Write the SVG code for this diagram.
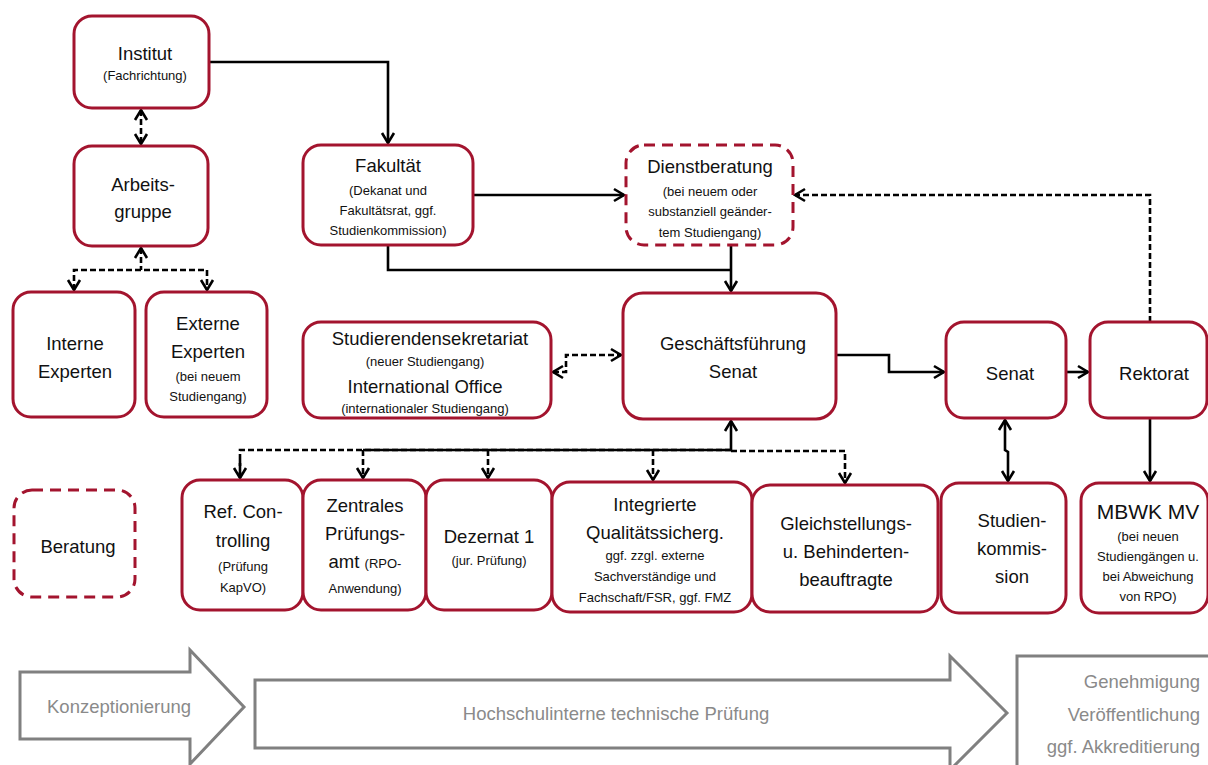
<svg xmlns="http://www.w3.org/2000/svg" width="1208" height="765" viewBox="0 0 1208 765">
<defs>
<style>
.n{fill:#fff;stroke:#a3142e;stroke-width:3}
.d{fill:#fff;stroke:#a3142e;stroke-width:3;stroke-dasharray:11 7}
.t{font-family:"Liberation Sans",Arial,sans-serif;font-size:18.5px;fill:#111;text-anchor:middle}
.s{font-family:"Liberation Sans",Arial,sans-serif;font-size:13px;fill:#111;text-anchor:middle}
.c{fill:none;stroke:#000;stroke-width:2.6}
.cd{fill:none;stroke:#000;stroke-width:2.6;stroke-dasharray:6 3}
.g{fill:#fff;stroke:#808080;stroke-width:3}
.gt{font-family:"Liberation Sans",Arial,sans-serif;font-size:18.5px;fill:#8a8a8a}
</style>
<marker id="a" markerUnits="userSpaceOnUse" markerWidth="16" markerHeight="16" viewBox="0 0 16 16" refX="13" refY="8" orient="auto-start-reverse">
<path d="M3,2 L13,8 L3,14" fill="none" stroke="#000" stroke-width="2.6"/>
</marker>
</defs>

<g id="connectors">
<path class="c" d="M209,62 H388 V143" marker-end="url(#a)"/>
<path class="cd" d="M141,110 V144" marker-start="url(#a)" marker-end="url(#a)"/>
<path class="cd" d="M141,248 V270"  marker-start="url(#a)"/>
<path class="cd" d="M74,290 V270 H207 V290" marker-start="url(#a)" marker-end="url(#a)"/>
<path class="c" d="M473,195 H624" marker-end="url(#a)"/>
<path class="c" d="M388,245 V270 H731"/>
<path class="c" d="M731,245 V291" marker-end="url(#a)"/>
<path class="cd" d="M1150,322 V195 H795" marker-end="url(#a)"/>
<path class="c" d="M836,355 H889 V372 H944" marker-end="url(#a)"/>
<path class="c" d="M1066,372 H1088" marker-end="url(#a)"/>
<path class="c" d="M1005,420 V450 L1008,452 V481" marker-start="url(#a)" marker-end="url(#a)"/>
<path class="c" d="M1150,418 V481" marker-end="url(#a)"/>
<path class="cd" d="M553,372 H566 V355 H621" marker-start="url(#a)" marker-end="url(#a)"/>
<path class="c" d="M731,421 V450" marker-start="url(#a)"/>
<path class="c" d="M363,450 H731"/>
<path class="cd" d="M240,478 V450 H731"/>
<path class="cd" d="M731,451 H845 V483" marker-end="url(#a)"/>
<path class="cd" d="M240,460 V478" marker-end="url(#a)"/>
<path class="cd" d="M363,450 V478" marker-end="url(#a)"/>
<path class="cd" d="M488,450 V478" marker-end="url(#a)"/>
<path class="cd" d="M653,450 V480" marker-end="url(#a)"/>
</g>

<g id="institut">
<rect class="n" x="74" y="16" width="135" height="92" rx="18"/>
<text class="t" x="145" y="60">Institut</text>
<text class="s" x="145" y="80">(Fachrichtung)</text>
</g>
<g id="arbeitsgruppe">
<rect class="n" x="74" y="146" width="134" height="100" rx="18"/>
<text class="t" x="143" y="191">Arbeits-</text>
<text class="t" x="143" y="218">gruppe</text>
</g>
<g id="interne">
<rect class="n" x="13" y="292" width="122" height="125" rx="18"/>
<text class="t" x="75" y="350">Interne</text>
<text class="t" x="75" y="378">Experten</text>
</g>
<g id="externe">
<rect class="n" x="146" y="292" width="121" height="125" rx="18"/>
<text class="t" x="208" y="330">Externe</text>
<text class="t" x="208" y="358">Experten</text>
<text class="s" x="208" y="381">(bei neuem</text>
<text class="s" x="208" y="401">Studiengang)</text>
</g>
<g id="fakultaet">
<rect class="n" x="303" y="145" width="170" height="100" rx="18"/>
<text class="t" x="388" y="172">Fakultät</text>
<text class="s" x="388" y="195">(Dekanat und</text>
<text class="s" x="388" y="215">Fakultätsrat, ggf.</text>
<text class="s" x="388" y="235">Studienkommission)</text>
</g>
<g id="dienstberatung">
<rect class="d" x="626" y="145" width="167" height="100" rx="18"/>
<text class="t" x="710" y="173">Dienstberatung</text>
<text class="s" x="710" y="196">(bei neuem oder</text>
<text class="s" x="710" y="216">substanziell geänder-</text>
<text class="s" x="710" y="237">tem Studiengang)</text>
</g>
<g id="studierendensekretariat">
<rect class="n" x="303" y="322" width="248" height="96" rx="18"/>
<text class="t" x="430" y="345">Studierendensekretariat</text>
<text class="s" x="425" y="366">(neuer Studiengang)</text>
<text class="t" x="425" y="393">International Office</text>
<text class="s" x="425" y="413">(internationaler Studiengang)</text>
</g>
<g id="geschaeftsfuehrung">
<rect class="n" x="623" y="293" width="213" height="126" rx="20"/>
<text class="t" x="733" y="350">Geschäftsführung</text>
<text class="t" x="733" y="378">Senat</text>
</g>
<g id="senat">
<rect class="n" x="946" y="322" width="120" height="96" rx="18"/>
<text class="t" x="1010" y="380">Senat</text>
</g>
<g id="rektorat">
<rect class="n" x="1090" y="322" width="117" height="96" rx="18"/>
<text class="t" x="1154" y="380">Rektorat</text>
</g>
<g id="controlling">
<rect class="n" x="182" y="480" width="121" height="130" rx="18"/>
<text class="t" x="243" y="518">Ref. Con-</text>
<text class="t" x="243" y="547">trolling</text>
<text class="s" x="243" y="571">(Prüfung</text>
<text class="s" x="243" y="592">KapVO)</text>
</g>
<g id="pruefungsamt">
<rect class="n" x="303" y="480" width="123" height="130" rx="18"/>
<text class="t" x="365" y="512">Zentrales</text>
<text class="t" x="365" y="540">Prüfungs-</text>
<text x="365" y="568" class="t"><tspan>amt </tspan><tspan style="font-size:13px">(RPO-</tspan></text>
<text class="s" x="365" y="593">Anwendung)</text>
</g>
<g id="dezernat">
<rect class="n" x="426" y="480" width="126" height="130" rx="18"/>
<text class="t" x="489" y="543">Dezernat 1</text>
<text class="s" x="489" y="565">(jur. Prüfung)</text>
</g>
<g id="qualitaet">
<rect class="n" x="552" y="482" width="200" height="130" rx="18"/>
<text class="t" x="655" y="511">Integrierte</text>
<text class="t" x="655" y="539">Qualitätssicherg.</text>
<text class="s" x="655" y="560">ggf. zzgl. externe</text>
<text class="s" x="655" y="581">Sachverständige und</text>
<text class="s" x="655" y="602">Fachschaft/FSR, ggf. FMZ</text>
</g>
<g id="gleichstellung">
<rect class="n" x="752" y="485" width="186" height="127" rx="18"/>
<text class="t" x="846" y="530">Gleichstellungs-</text>
<text class="t" x="846" y="558">u. Behinderten-</text>
<text class="t" x="846" y="586">beauftragte</text>
</g>
<g id="studienkommission">
<rect class="n" x="941" y="483" width="125" height="130" rx="18"/>
<text class="t" x="1012" y="527">Studien-</text>
<text class="t" x="1012" y="555">kommis-</text>
<text class="t" x="1012" y="583">sion</text>
</g>
<g id="mbwk">
<rect class="n" x="1081" y="483" width="127" height="130" rx="18"/>
<text class="t" x="1148" y="519" style="font-size:21px">MBWK MV</text>
<text class="s" x="1148" y="541">(bei neuen</text>
<text class="s" x="1148" y="561">Studiengängen u.</text>
<text class="s" x="1148" y="581">bei Abweichung</text>
<text class="s" x="1148" y="601">von RPO)</text>
</g>
<g id="beratung">
<rect class="d" x="14" y="490" width="121" height="107" rx="18"/>
<text class="t" x="78" y="553">Beratung</text>
</g>

<g id="phases">
<path class="g" d="M20,672 H190 V650 L244,707 L190,764 V739 H20 Z"/>
<text class="gt" x="119" y="713" text-anchor="middle">Konzeptionierung</text>
<path class="g" d="M255,680 H950 V656 L1007,713 L950,770 V748 H255 Z"/>
<text class="gt" x="616" y="720" text-anchor="middle">Hochschulinterne technische Prüfung</text>
<rect class="g" x="1017" y="656" width="200" height="120"/>
<text class="gt" x="1200" y="688" text-anchor="end">Genehmigung</text>
<text class="gt" x="1200" y="721" text-anchor="end">Veröffentlichung</text>
<text class="gt" x="1200" y="753" text-anchor="end">ggf. Akkreditierung</text>
</g>
</svg>
